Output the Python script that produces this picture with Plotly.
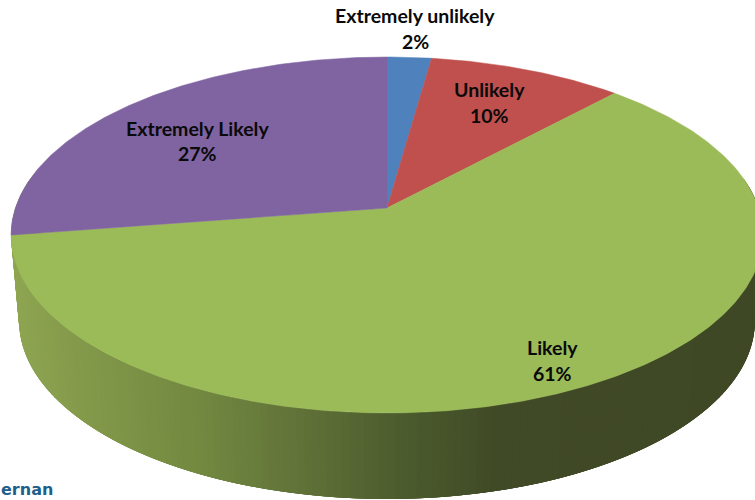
import numpy as np
import plotly.graph_objects as go

categories = ["Extremely unlikely", "Unlikely", "Likely", "Extremely Likely"]
values = [2.2, 9.7, 60.6, 27.4]
colors = ["#4F81BD", "#C0504D", "#9BBB59", "#8064A2"]

# label anchor positions (image pixels)
label_x = [415, 489, 552, 197]
label_y = [15, 89, 347, 128]
pct_y = [41, 115, 373, 153]

W, H = 755, 500
CX, AY = 387, 208
K = 0.1517
A_TOP, B = 371.6, 173.9
A_BOT = A_TOP * 368 / 376
DEPTH = 86
SIDE_STOPS_X = [10, 100, 200, 300, 400, 500, 760]
SIDE_STOPS_RGB = [(142, 165, 82), (128, 150, 72), (114, 136, 64), (96, 114, 56), (76, 92, 46), (64, 74, 38), (63, 72, 37)]


def rim(theta, a=A_TOP, dy=0.0):
    w = 1 + K * np.cos(theta)
    return CX + a * np.sin(theta) / w, AY + dy - B * np.cos(theta) / w


fig = go.Figure()

# Side wall, drawn as overlapping quads along the front of the rim (right to left)
edges = np.radians(np.arange(80, 280.5, 1.0))
for t0, t1 in zip(edges[:-1], edges[1:]):
    ts = np.linspace(t0, t1 + np.radians(3), 5)
    xt, yt = rim(ts)
    xb, yb = rim(ts, A_BOT, DEPTH)
    xm = float(rim((t0 + t1) / 2)[0])
    rgb = [int(round(np.interp(xm, SIDE_STOPS_X, [c[i] for c in SIDE_STOPS_RGB]))) for i in range(3)]
    col = "rgb(%d,%d,%d)" % tuple(rgb)
    fig.add_trace(go.Scatter(
        x=np.r_[xt, xb[::-1], xt[0]],
        y=np.r_[yt, yb[::-1], yt[0]],
        mode="lines", fill="toself", fillcolor=col,
        line=dict(width=0), hoverinfo="skip", showlegend=False,
    ))

# Top surface, one wedge per category
total = sum(values)
cum = 0.0
for name, v, col in zip(categories, values, colors):
    t = np.linspace(cum, cum + v, max(int(v * 6), 12)) / total * 2 * np.pi
    cum += v
    xr, yr = rim(t)
    fig.add_trace(go.Scatter(
        x=np.r_[CX, xr, CX], y=np.r_[AY, yr, AY],
        mode="lines", fill="toself", fillcolor=col,
        line=dict(color=col, width=0.5), name=name,
        hoverinfo="name", showlegend=False,
    ))

font = dict(family="Lato", size=19.5, color="#0a0a0a")
ann = []
for name, v, lx, ly, py in zip(categories, values, label_x, label_y, pct_y):
    ann.append(dict(x=lx, y=ly, text="<b>%s</b>" % name, showarrow=False, font=font,
                    xanchor="center", yanchor="middle"))
    ann.append(dict(x=lx, y=py, text="<b>%d%%</b>" % round(v), showarrow=False, font=font,
                    xanchor="center", yanchor="middle"))
ann.append(dict(x=0, y=500, text="<b>ernan</b>", showarrow=False, xanchor="left", yanchor="bottom",
                borderpad=0, font=dict(family="DejaVu Sans", size=16, color="#1F5F8B")))

fig.update_layout(
    width=W, height=H, margin=dict(l=0, r=0, t=0, b=0),
    paper_bgcolor="white", plot_bgcolor="white", annotations=ann,
    xaxis=dict(range=[0, W], visible=False, fixedrange=True),
    yaxis=dict(range=[H, 0], visible=False, fixedrange=True),
)
fig.write_html("out.html", config=dict(displayModeBar=False),
               post_script="document.body.style.margin='0';document.body.style.overflow='hidden';")
